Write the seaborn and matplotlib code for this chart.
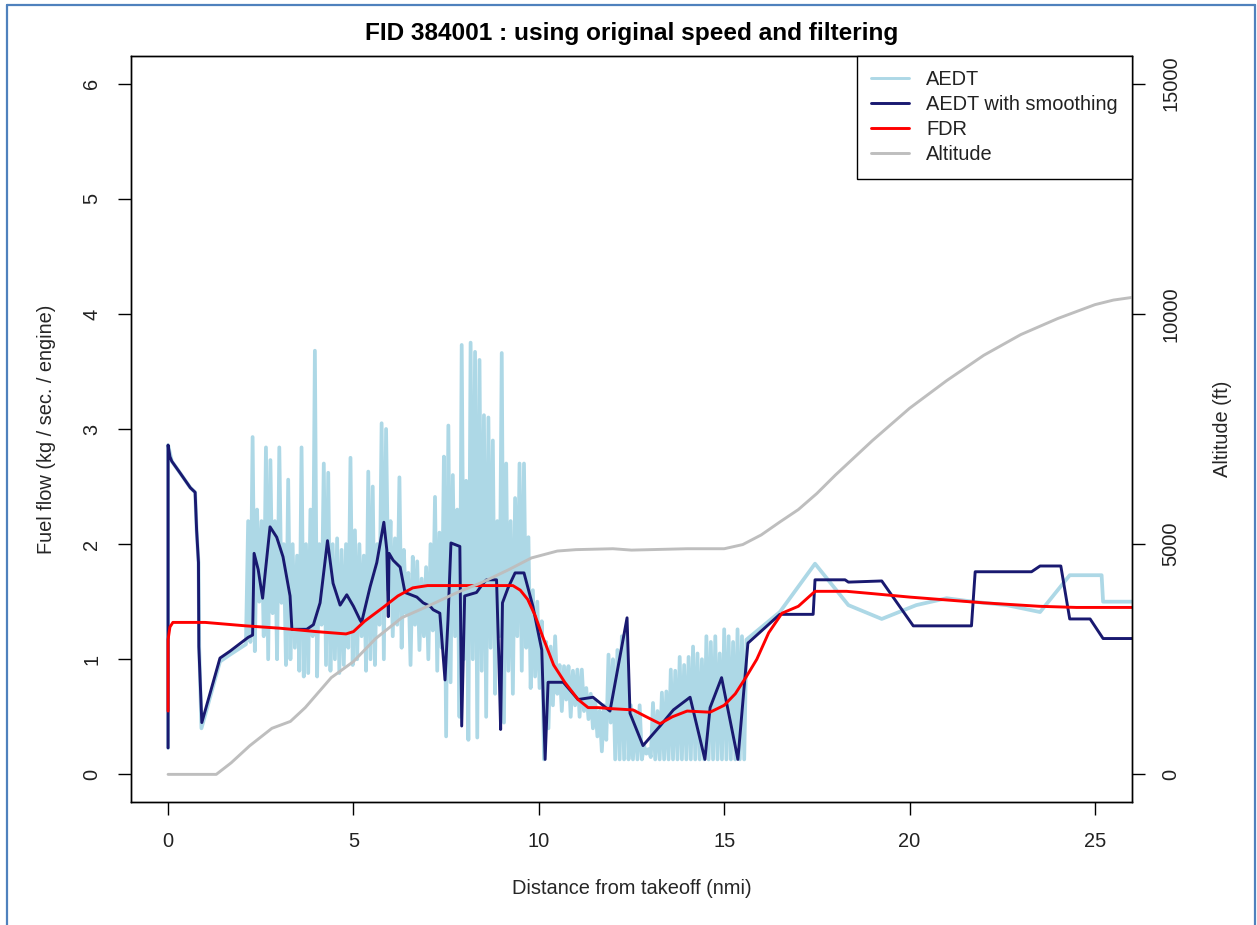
import numpy as np
import pandas as pd
import matplotlib
matplotlib.use("Agg")
import matplotlib.pyplot as plt
import seaborn as sns
from matplotlib.lines import Line2D

# ---------------- data ----------------
title = "FID 384001 : using original speed and filtering"
x_label = "Distance from takeoff (nmi)"
y_label = "Fuel flow (kg / sec. / engine)"
y2_label = "Altitude (ft)"
legend_labels = ["AEDT", "AEDT with smoothing", "FDR", "Altitude"]
x_ticks = [0, 5, 10, 15, 20, 25]
y_ticks = [0, 1, 2, 3, 4, 5, 6]
y2_ticks = [0, 5000, 10000, 15000]

# AEDT raw fuel flow: start segment
aedt_start_x = [0.0, 0.0, 0.1, 0.32, 0.6, 0.73, 0.77, 0.82, 0.84, 0.9, 1.4, 1.67, 2.1]
aedt_start_y = [0.23, 2.86, 2.72, 2.62, 2.49, 2.45, 2.12, 1.84, 1.1, 0.40, 0.98, 1.04, 1.13]
# AEDT raw, noisy part: peaks / troughs every 0.12 nmi from 2.16 nmi
noisy_start = 2.16
noisy_step = 0.12
aedt_noisy_hi = [2.2, 2.93, 2.3, 2.2, 2.84, 2.73, 2.2, 2.84, 2.0, 2.56,
                 2.0, 1.9, 2.84, 2.0, 2.3, 3.68, 2.0, 2.7, 2.62, 2.0,
                 2.05, 1.95, 2.0, 2.75, 2.12, 2.0, 1.9, 2.63, 2.5, 2.0,
                 3.05, 3.0, 2.2, 2.05, 2.58, 1.95, 1.75, 1.89, 1.85, 1.7,
                 1.8, 2.0, 2.41, 2.1, 2.76, 3.03, 2.6, 2.3, 3.73, 2.55,
                 3.75, 3.67, 3.6, 3.12, 3.1, 2.9, 2.2, 3.66, 2.7, 2.2,
                 2.4, 2.7, 2.7, 2.06, 1.6, 1.5, 1.33, 1.15,
                 1.11, 1.2, 0.95, 0.94, 0.94, 0.90, 0.91, 0.91, 0.75, 0.70,
                 0.65, 0.55, 0.6, 1.04, 1.0, 1.08, 1.2, 1.26, 0.6, 0.55,
                 0.6, 0.25, 0.22, 0.62, 0.55, 0.71, 0.72, 0.91, 0.9, 1.02,
                 0.95, 1.02, 1.11, 1.05, 1.0, 1.2, 1.15, 1.2, 1.05, 1.26,
                 1.2, 1.15, 1.26, 1.2]
aedt_noisy_lo = [1.15, 1.07, 1.5, 1.2, 1.0, 1.4, 1.0, 1.49, 0.95, 1.0,
                 1.1, 0.9, 0.85, 0.88, 1.2, 0.85, 1.3, 0.95, 0.9, 1.0,
                 0.88, 0.95, 1.1, 0.95, 1.0, 1.2, 0.9, 1.0, 0.95, 1.3,
                 1.0, 1.6, 1.2, 1.3, 1.1, 1.4, 0.95, 1.3, 1.08, 1.2,
                 1.0, 1.25, 0.9, 1.1, 0.33, 0.8, 1.2, 0.5, 1.0, 0.30,
                 1.0, 0.32, 0.9, 0.5, 1.1, 0.7, 1.2, 0.45, 0.9, 0.7,
                 1.2, 0.9, 1.1, 0.75, 0.85, 0.75, 0.13, 0.4,
                 0.6, 0.7, 0.55, 0.65, 0.5, 0.6, 0.5, 0.55, 0.48, 0.4,
                 0.33, 0.2, 0.3, 0.45, 0.13, 0.13, 0.13, 0.13, 0.13, 0.13,
                 0.13, 0.18, 0.15, 0.13, 0.13, 0.13, 0.13, 0.13, 0.13, 0.13,
                 0.13, 0.13, 0.13, 0.13, 0.13, 0.13, 0.13, 0.13, 0.13, 0.13,
                 0.13, 0.13, 0.13, 0.13]
# AEDT raw: end segment
aedt_end_x = [15.6, 16.5, 17.45, 18.35, 19.25, 20.18, 21.0, 21.71, 22.62, 23.52, 24.32, 25.18, 25.22, 26.2]
aedt_end_y = [1.17, 1.41, 1.83, 1.47, 1.35, 1.47, 1.53, 1.50, 1.47, 1.41, 1.73, 1.73, 1.50, 1.50]

# AEDT with smoothing
smooth_x = [0.0, 0.0, 0.05, 0.1, 0.32, 0.6, 0.73, 0.77, 0.82, 0.83, 0.91, 1.40, 1.67, 2.16, 2.28,
            2.32, 2.43, 2.55, 2.62, 2.75, 2.93, 3.1, 3.29, 3.34, 3.74, 3.92, 4.1, 4.23, 4.3,
            4.45, 4.64, 4.82, 5.0, 5.18, 5.22, 5.45, 5.63, 5.82, 5.9, 5.94, 5.96, 6.07, 6.26,
            6.39, 6.71, 6.88, 7.07, 7.15, 7.33, 7.47, 7.55, 7.63, 7.87, 7.92, 8.0, 8.32, 8.5,
            8.59, 8.86, 8.93, 8.97, 9.02, 9.17, 9.36, 9.60, 9.84, 10.08, 10.17, 10.25, 10.66,
            11.06, 11.46, 11.92, 12.38, 12.46, 12.81, 13.27, 13.63, 14.08, 14.48, 14.62, 14.93,
            15.37, 15.64, 16.5, 17.4, 17.45, 18.26, 18.35, 19.25, 20.1, 21.67, 21.77, 23.29,
            23.52, 24.08, 24.32, 24.87, 25.22, 26.2]
smooth_y = [0.23, 2.86, 2.76, 2.72, 2.62, 2.49, 2.45, 2.12, 1.84, 1.11, 0.45, 1.01, 1.07, 1.19, 1.21,
            1.92, 1.78, 1.53, 1.75, 2.15, 2.06, 1.89, 1.55, 1.26, 1.26, 1.30, 1.49, 1.84, 2.03,
            1.66, 1.47, 1.56, 1.46, 1.34, 1.32, 1.63, 1.84, 2.19, 1.95, 1.37, 1.92, 1.86, 1.80,
            1.58, 1.54, 1.49, 1.46, 1.43, 1.40, 0.82, 1.34, 2.01, 1.98, 0.42, 1.55, 1.58, 1.66,
            1.69, 1.69, 0.91, 0.39, 1.49, 1.62, 1.75, 1.75, 1.46, 1.08, 0.13, 0.80, 0.80,
            0.65, 0.67, 0.55, 1.36, 0.53, 0.25, 0.42, 0.56, 0.67, 0.13, 0.58, 0.84,
            0.13, 1.14, 1.39, 1.39, 1.69, 1.69, 1.67, 1.68, 1.29, 1.29, 1.76, 1.76,
            1.81, 1.81, 1.35, 1.35, 1.18, 1.18]

# FDR fuel flow
fdr_x = [0.0, 0.0, 0.05, 0.13, 0.5, 1.0, 2.1, 3.0, 4.0, 4.8, 5.0, 5.3, 5.8, 6.2, 6.6, 7.0, 8.0,
         9.3, 9.5, 9.7, 9.9, 10.1, 10.4, 10.7, 11.06, 11.33, 11.6, 12.0, 12.54, 12.9, 13.27,
         13.6, 14.0, 14.62, 15.0, 15.3, 15.6, 15.88, 16.2, 16.56, 17.0, 17.45, 18.3, 19.0,
         20.0, 20.8, 22.0, 23.5, 24.5, 25.9, 26.2]
fdr_y = [0.55, 1.17, 1.28, 1.32, 1.32, 1.32, 1.29, 1.27, 1.24, 1.22, 1.24, 1.33, 1.45, 1.55,
         1.62, 1.64, 1.64, 1.64, 1.60, 1.52, 1.38, 1.2, 0.95, 0.80, 0.65, 0.58, 0.58, 0.57,
         0.56, 0.50, 0.44, 0.50, 0.55, 0.54, 0.60, 0.70, 0.85, 1.0, 1.23, 1.40, 1.46, 1.59,
         1.59, 1.57, 1.54, 1.52, 1.49, 1.46, 1.45, 1.45, 1.45]

# Altitude (ft)
alt_x = [0, 1.3, 1.7, 2.2, 2.8, 3.3, 3.7, 4.4, 5.0, 5.6, 6.3, 7.0, 7.8, 8.5, 9.2, 9.8, 10.5,
         11.0, 12.0, 12.5, 13.0, 14.0, 15.0, 15.5, 16.0, 16.5, 17.0, 17.5, 18.0, 19.0, 20.0,
         21.0, 22.0, 23.0, 24.0, 24.5, 25.0, 25.5, 26.2]
alt_ft = [0, 0, 250, 620, 1000, 1150, 1450, 2100, 2450, 2950, 3400, 3650, 3950, 4180, 4450,
          4700, 4850, 4880, 4900, 4870, 4880, 4900, 4900, 4990, 5200, 5480, 5750, 6100, 6500,
          7250, 7950, 8550, 9100, 9550, 9900, 10050, 10200, 10300, 10380]

# ---------------- build series ----------------
noisy_x, noisy_y = [], []
for i, (h, l) in enumerate(zip(aedt_noisy_hi, aedt_noisy_lo)):
    xi = noisy_start + noisy_step * i
    noisy_x += [xi, xi + noisy_step / 2]
    noisy_y += [h, l]
aedt_df = pd.DataFrame({"x": aedt_start_x + noisy_x + aedt_end_x,
                        "y": aedt_start_y + noisy_y + aedt_end_y})
smooth_df = pd.DataFrame({"x": smooth_x, "y": smooth_y})
fdr_df = pd.DataFrame({"x": fdr_x, "y": fdr_y})
alt_df = pd.DataFrame({"x": alt_x, "y": alt_ft})

# ---------------- style ----------------
sns.set_style("ticks")
plt.rcParams["font.family"] = ["Liberation Sans", "DejaVu Sans"]
plt.rcParams["axes.edgecolor"] = "black"
plt.rcParams["axes.linewidth"] = 1.0
plt.rcParams["xtick.color"] = "black"
plt.rcParams["ytick.color"] = "black"
plt.rcParams["text.color"] = "#222222"

FS = 14.4
W, H = 1257, 925
fig = plt.figure(figsize=(W / 100, H / 100), dpi=100)
L, R, T, B = 131, 1132, 56, 802
ax = fig.add_axes([L / W, 1 - B / H, (R - L) / W, (B - T) / H])

c_aedt = "#ADD8E6"
c_smooth = "#191970"
c_fdr = "#FF0000"
c_alt = "#BEBEBE"
lw = 2.1

kw = dict(x="x", y="y", estimator=None, sort=False, legend=False)
sns.lineplot(data=aedt_df, ax=ax, color=c_aedt, lw=2.7, **kw)
sns.lineplot(data=smooth_df, ax=ax, color=c_smooth, lw=lw, **kw)
sns.lineplot(data=fdr_df, ax=ax, color=c_fdr, lw=lw, **kw)

ax.set_xlim(-1, 26)
ax.set_ylim(-0.24, 6.24)
ax.set_xticks(x_ticks)
ax.set_yticks(y_ticks)
ax.set_xticklabels([str(v) for v in x_ticks])
ax.set_yticklabels([str(v) for v in y_ticks])

ax2 = ax.twinx()
sns.lineplot(data=alt_df, ax=ax2, color=c_alt, lw=lw, **kw)
ax2.set_ylim(-0.24 * 2500, 6.24 * 2500)
ax2.set_yticks(y2_ticks)
ax2.set_yticklabels([str(v) for v in y2_ticks])

for a in (ax, ax2):
    for s in a.spines.values():
        s.set_visible(True)
        s.set_color("black")
        s.set_linewidth(1.0)
    a.tick_params(axis="both", length=9.4, width=1.0, color="black",
                  labelsize=FS, pad=12, labelcolor="#222222")

ax.tick_params(axis="y", labelrotation=90)
for t in ax.get_yticklabels():
    t.set_va("center")
ax2.tick_params(axis="y", labelrotation=90, pad=11.5)
for t in ax2.get_yticklabels():
    t.set_va("center")

ax.set_xlabel(x_label, fontsize=FS, va="center")
ax.xaxis.set_label_coords(0.5, (B - 889) / (B - T))
ax.set_ylabel(y_label, fontsize=FS, va="center")
ax.yaxis.set_label_coords((47 - L) / (R - L), 0.5)
ax2.set_ylabel(y2_label, fontsize=FS, va="center", rotation=90)
ax2.yaxis.set_label_coords((1222 - L) / (R - L), 0.5)

ax.set_title(title, fontsize=17.6, fontweight="bold", pad=11.5, color="black")

handles = [Line2D([], [], color=c, lw=lw) for c in (c_aedt, c_smooth, c_fdr, c_alt)]
leg = ax2.legend(handles, legend_labels, loc="upper right", bbox_to_anchor=(1, 1),
                 borderaxespad=0, frameon=True, fancybox=False, edgecolor="black",
                 framealpha=1, fontsize=FS, handlelength=1.9, handletextpad=0.85,
                 labelspacing=0.30, borderpad=0.72)
leg.get_frame().set_linewidth(1.0)

# blue screenshot frame
fc = "#4F81BD"
fig.add_artist(Line2D([7 / W, 7 / W], [0, 1 - 5 / H], transform=fig.transFigure, color=fc, lw=1.6))
fig.add_artist(Line2D([7 / W, 1255 / W], [1 - 5 / H, 1 - 5 / H], transform=fig.transFigure, color=fc, lw=1.6))
fig.add_artist(Line2D([1255 / W, 1255 / W], [0, 1 - 5 / H], transform=fig.transFigure, color=fc, lw=1.6))

fig.savefig("out.png", dpi=100, facecolor="white")
